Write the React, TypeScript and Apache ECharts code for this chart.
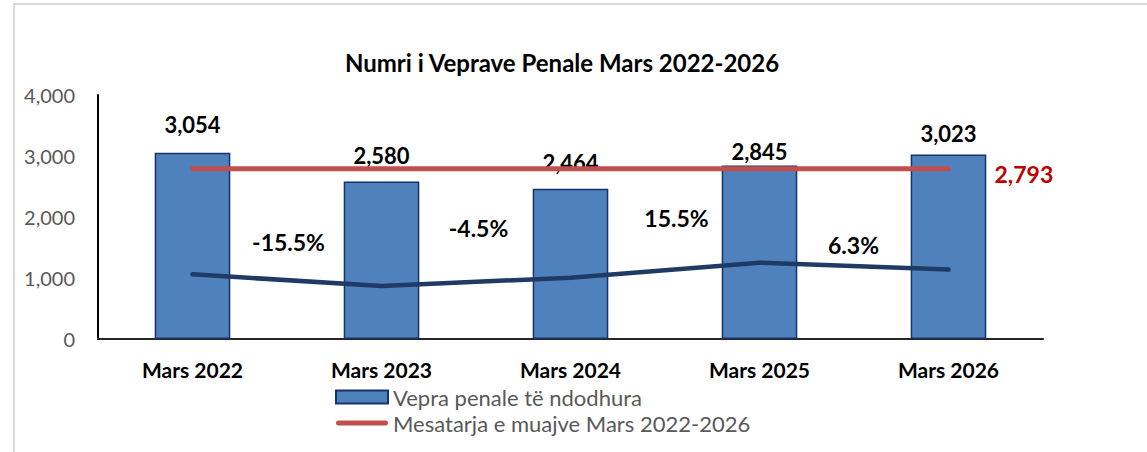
import React, { useEffect, useRef } from "react";
import * as echarts from "echarts";

const categories = ["Mars 2022", "Mars 2023", "Mars 2024", "Mars 2025", "Mars 2026"];
const crimes = [3054, 2580, 2464, 2845, 3023];
const averageValue = 2793;
const changePct = [0, -15.5, -4.5, 15.5, 6.3];
const yTicks = [0, 1000, 2000, 3000, 4000];
const titleText = "Numri i Veprave Penale Mars 2022-2026";
const barName = "Vepra penale të ndodhura";
const avgName = "Mesatarja e muajve Mars 2022-2026";

const FONT = "Lato, 'Noto Sans', sans-serif";

// layout tweaks (not data)
const barLabelNudge = [-2, 0, 0, 12, 5];
const pctLabelOffsets: [number, number][] = [
  [0, 0],
  [-93, -44],
  [-92, -50],
  [-83, -45],
  [-95, -25],
];
// thin line icon centred in a 52x13 legend box
const LINE_ICON =
  "path://M0,0M52,13M2.5,4L49.5,4A2.5,2.5,0,0,1,49.5,9L2.5,9A2.5,2.5,0,0,1,2.5,4Z";

export default function App() {
  const ref = useRef<HTMLDivElement>(null);
  useEffect(() => {
    if (!ref.current) return;
    const chart = echarts.init(ref.current, undefined, { renderer: "svg" });
    const fmt = (v: number) => v.toLocaleString("en-US");
    chart.setOption({
      animation: false,
      backgroundColor: "#ffffff",
      textStyle: { fontFamily: FONT },
      title: {
        text: titleText,
        left: 562,
        top: 50,
        padding: 0,
        textAlign: "center",
        textStyle: { fontFamily: FONT, fontSize: 24, fontWeight: "bold", color: "#000000" },
      },
      graphic: [
        {
          type: "rect",
          shape: { x: 14, y: 4, width: 1140, height: 470 },
          style: { fill: "none", stroke: "#D9D9D9", lineWidth: 2 },
          silent: true,
          z: -10,
        },
      ],
      legend: {
        orient: "vertical",
        left: 335,
        top: 386,
        padding: 0,
        itemWidth: 52,
        itemHeight: 13,
        itemGap: 4,
        itemTextGap: 5,
        data: [
          { name: barName, icon: "rect" },
          { name: avgName, icon: LINE_ICON, itemStyle: { color: "#C0504D" } },
        ],
        textStyle: { fontFamily: FONT, fontSize: 22, color: "#595959", lineHeight: 20 },
      },
      grid: { left: 98, right: 104, top: 95, bottom: 113, containLabel: false },
      xAxis: {
        type: "category",
        data: categories,
        axisLine: { show: true, lineStyle: { color: "#262626", width: 2 } },
        axisTick: { show: false },
        axisLabel: {
          fontFamily: FONT,
          fontSize: 21,
          fontWeight: "bold",
          color: "#000000",
          margin: 20,
        },
      },
      yAxis: [
        {
          type: "value",
          min: yTicks[0],
          max: yTicks[yTicks.length - 1],
          interval: 1000,
          axisLine: { show: true, lineStyle: { color: "#000000", width: 2 } },
          axisTick: { show: false },
          splitLine: { show: false },
          axisLabel: {
            fontFamily: FONT,
            fontSize: 20,
            color: "#595959",
            margin: 23,
            formatter: (v: number) => fmt(v),
          },
        },
        {
          type: "value",
          min: -86,
          max: 238.5,
          show: false,
          splitLine: { show: false },
        },
      ],
      series: [
        {
          name: barName,
          type: "bar",
          barWidth: "40%",
          itemStyle: { color: "#4F81BD", borderColor: "#15326E", borderWidth: 1.5 },
          data: crimes.map((v, i) => ({
            value: v,
            label: { offset: [0, barLabelNudge[i]] },
          })),
          label: {
            show: true,
            position: "top",
            distance: 15,
            fontFamily: FONT,
            fontSize: 22,
            fontWeight: "bold",
            color: "#000000",
            formatter: (p: any) => fmt(p.value),
          },
          z: 2,
        },
        {
          name: avgName,
          type: "line",
          symbol: "none",
          lineStyle: { color: "#C0504D", width: 5, cap: "round" },
          itemStyle: { color: "#C0504D" },
          data: categories.map(() => averageValue),
          endLabel: {
            show: true,
            distance: 46,
            offset: [0, 5],
            fontFamily: FONT,
            fontSize: 23,
            fontWeight: "bold",
            color: "#C00000",
            formatter: (p: any) => fmt(p.value),
          },
          z: 3,
        },
        {
          name: "Ndryshimi",
          type: "line",
          yAxisIndex: 1,
          symbol: "circle",
          symbolSize: 1,
          lineStyle: { color: "#1F3B63", width: 4.5, cap: "round", join: "round" },
          itemStyle: { color: "#1F3B63" },
          data: changePct.map((v, i) => ({
            value: v,
            label: {
              show: i > 0,
              position: "inside",
              offset: pctLabelOffsets[i],
              fontFamily: FONT,
              fontSize: 23,
              fontWeight: "bold",
              color: "#000000",
              formatter: (p: any) => `${p.value.toFixed(1)}%`,
            },
          })),
          z: 4,
        },
      ],
    });
    return () => chart.dispose();
  }, []);
  return (
    <div
      ref={ref}
      style={{ position: "fixed", left: 0, top: 0, width: 1147, height: 452 }}
    />
  );
}
